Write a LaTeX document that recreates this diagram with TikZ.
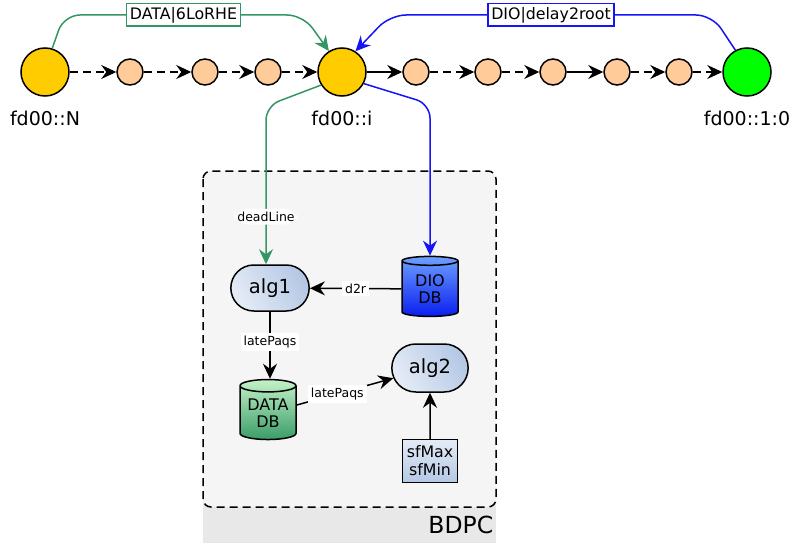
\documentclass[tikz,border=0pt]{standalone}
\usepackage{fontspec}
\setmainfont{DejaVu Sans}
\usetikzlibrary{arrows.meta, positioning, shapes.geometric, shapes.misc}

\definecolor{datagreen}{RGB}{52,150,100}
\definecolor{dioblue}{RGB}{20,20,245}
\definecolor{nodegold}{RGB}{255,204,0}
\definecolor{hoppeach}{RGB}{255,204,153}
\definecolor{rootgreen}{RGB}{0,255,0}
\definecolor{alglight}{RGB}{228,235,246}
\definecolor{algdark}{RGB}{180,200,228}

\begin{document}
\begin{tikzpicture}[
    x=1pt, y=-1pt,
    line width=1.5pt,
    >={Stealth[length=15pt, width=14pt, inset=5pt]},
    bignode/.style={circle, draw, fill=nodegold, minimum size=48pt, inner sep=0pt},
    hop/.style={circle, draw, fill=hoppeach, minimum size=26pt, inner sep=0pt},
    addr/.style={font=\fontsize{19}{22}\selectfont, inner sep=0pt},
    alg/.style={rounded rectangle, draw, left color=alglight, right color=algdark,
        shading angle=120, minimum width=85pt, minimum height=46pt,
        font=\fontsize{19.5}{22}\selectfont},
    db/.style={cylinder, shape border rotate=90, draw, aspect=0.3,
        minimum width=56pt, minimum height=60pt, inner sep=0pt, align=center,
        font=\fontsize{16}{17.5}\selectfont},
    param/.style={rectangle, draw, top color=alglight, bottom color=algdark,
        minimum width=55pt, minimum height=43pt, inner sep=1pt, align=center,
        font=\fontsize{15.8}{18}\selectfont},
    elbl/.style={fill=white, text=black, inner sep=3pt, font=\fontsize{12.5}{14}\selectfont},
    tag/.style={draw, fill=white, text=black, sharp corners, inner sep=3.2pt, line width=1.2pt,
        font=\fontsize{15.8}{18}\selectfont},
    hopd/.style={->, dash pattern=on 8pt off 5pt},
    hops/.style={->},
]
    \useasboundingbox (0,0) rectangle (790,543);

    % BDPC box
    \fill[black!9] (203,490) rectangle (496,543);
    \draw[dash pattern=on 8pt off 5pt, rounded corners=8pt, fill=black!4] (203,171) rectangle (496,507);
    \node (bdpc) [anchor=east, font=\fontsize{23.5}{26}\selectfont, inner sep=0pt] at (494,525) {BDPC};

    % Nodes
    \node (N) [bignode] at (45,72) {};
    \node (h1) [hop, right=46.5pt of N] {};
    \node (h2) [hop, right=47.5pt of h1] {};
    \node (h3) [hop, right=35.5pt of h2] {};
    \node (i) [bignode, right=35.5pt of h3] {};
    \node (h4) [hop, right=35.5pt of i] {};
    \node (h5) [hop, right=44.5pt of h4] {};
    \node (h6) [hop, right=37.5pt of h5] {};
    \node (h7) [hop, right=36.5pt of h6] {};
    \node (h8) [hop, right=34.5pt of h7] {};
    \node (root) [bignode, fill=rootgreen, right=29.5pt of h8] {};

    \node (Nlbl) [addr, below=14pt of N] {fd00::N};
    \node (ilbl) [addr, below=14pt of i] {fd00::i};
    \node (rootlbl) [addr, below=14pt of root] {fd00::1:0};

    \node (alg1) [alg] at (270,288) {alg1};
    \node (dio) [db, top color={rgb,255:red,110;green,160;blue,255}, bottom color={rgb,255:red,10;green,30;blue,240}] at (430,289) {DIO\\DB};
    \node (datadb) [db, top color={rgb,255:red,196;green,242;blue,200}, bottom color={rgb,255:red,58;green,156;blue,104}] at (268,413) {DATA\\DB};
    \node (alg2) [alg, minimum width=83pt, minimum height=48pt] at (430,368) {alg2};
    \node (sf) [param] at (430,461) {sfMax\\sfMin};

    % Connections
    \draw[hopd] (N) -- (h1);
    \draw[hopd] (h1) -- (h2);
    \draw[hopd] (h2) -- (h3);
    \draw[hopd] (h3) -- (i);
    \draw[hops] (i) -- (h4);
    \draw[hopd] (h4) -- (h5);
    \draw[hopd] (h5) -- (h6);
    \draw[hops] (h6) -- (h7);
    \draw[hopd] (h7) -- (h8);
    \draw[hopd] (h8) -- (root);

    \draw[->, datagreen, rounded corners=16pt] (N.73) -- (64,15) -- node[tag] {DATA|6LoRHE} (303,15) -- (i.122);
    \draw[->, dioblue, rounded corners=16pt] (root.118) -- (712,15) -- node[tag] {DIO|delay2root} (390,15) -- (i.57);

    \draw[->, datagreen, rounded corners=14pt] (i.212) -- (266,106) -- node[elbl, pos=0.7] {deadLine} ([xshift=-4pt]alg1.north);
    \draw[->, dioblue, rounded corners=14pt] (i.-28) -- (430,104) -- (dio.north);

    \draw[->] (dio) -- node[elbl] {d2r} (alg1);
    \draw[->] (alg1.south) -- node[elbl, pos=0.45] {latePaqs} (alg1.south |- datadb.north);
    \draw[->] (datadb) -- node[elbl, pos=0.42] {latePaqs} (alg2);
    \draw[->] (sf) -- (alg2);
\end{tikzpicture}
\end{document}
